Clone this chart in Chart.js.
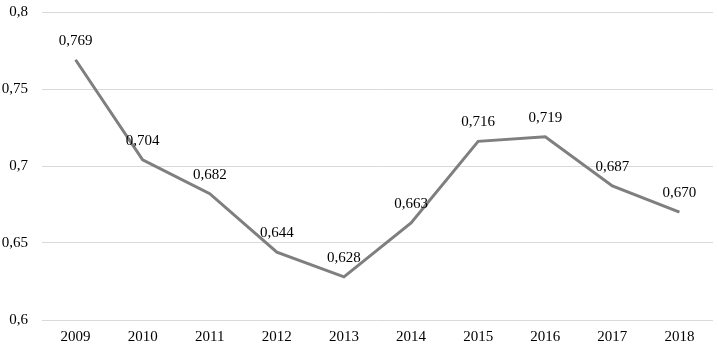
<!DOCTYPE html>
<html>
<head>
<meta charset="utf-8">
<script src="https://cdn.jsdelivr.net/npm/chart.js@4/dist/chart.umd.min.js"></script>
<style>
  body { margin: 0; background: #fff; }
  canvas { display: block; }
</style>
</head>
<body>
<canvas id="lineChart" width="719" height="348"></canvas>
<script>
const years = ['2009', '2010', '2011', '2012', '2013', '2014', '2015', '2016', '2017', '2018'];
const values = [0.769, 0.704, 0.682, 0.644, 0.628, 0.663, 0.716, 0.719, 0.687, 0.670];
const yTicks = [0.6, 0.65, 0.7, 0.75, 0.8];

function comma(v, digits) {
  return (digits ? v.toFixed(digits) : String(Math.round(v * 100) / 100)).replace('.', ',');
}

// labels above each point
const pointLabels = {
  id: 'pointLabels',
  afterDatasetsDraw(chart) {
    const ctx = chart.ctx;
    const meta = chart.getDatasetMeta(0);
    ctx.save();
    ctx.font = '15px "Liberation Serif", "Times New Roman", serif';
    ctx.fillStyle = '#000';
    ctx.textAlign = 'center';
    ctx.textBaseline = 'middle';
    meta.data.forEach(function (pt, i) {
      ctx.fillText(comma(values[i], 3), pt.x, pt.y - 19);
    });
    ctx.restore();
  }
};

new Chart(document.getElementById('lineChart'), {
  type: 'line',
  data: {
    labels: years,
    datasets: [{
      data: values,
      borderColor: '#7f7f7f',
      borderWidth: 3,
      pointRadius: 0,
      tension: 0
    }]
  },
  options: {
    responsive: false,
    animation: false,
    layout: { autoPadding: false, padding: { top: 12, right: 6, left: 0, bottom: 0 } },
    plugins: { legend: { display: false }, tooltip: { enabled: false } },
    scales: {
      x: {
        offset: true,
        grid: { display: false, drawTicks: false },
        border: { display: false },
        ticks: {
          color: '#000',
          font: { family: '"Liberation Serif", "Times New Roman", serif', size: 15 },
          padding: 8,
          maxRotation: 0
        },
        afterFit: function (s) { s.height = 28; s.paddingLeft = 0; s.paddingRight = 0; }
      },
      y: {
        min: 0.6,
        max: 0.8,
        afterBuildTicks: function (s) { s.ticks = yTicks.map(v => ({ value: v })); },
        grid: { color: '#d9d9d9', lineWidth: 1, drawTicks: false },
        border: { display: false },
        ticks: {
          color: '#000',
          font: { family: '"Liberation Serif", "Times New Roman", serif', size: 15 },
          padding: 14,
          callback: function (v) { return comma(v); }
        },
        afterFit: function (s) { s.width = 42; s.paddingTop = 0; s.paddingBottom = 0; }
      }
    }
  },
  plugins: [pointLabels]
});
</script>
</body>
</html>
